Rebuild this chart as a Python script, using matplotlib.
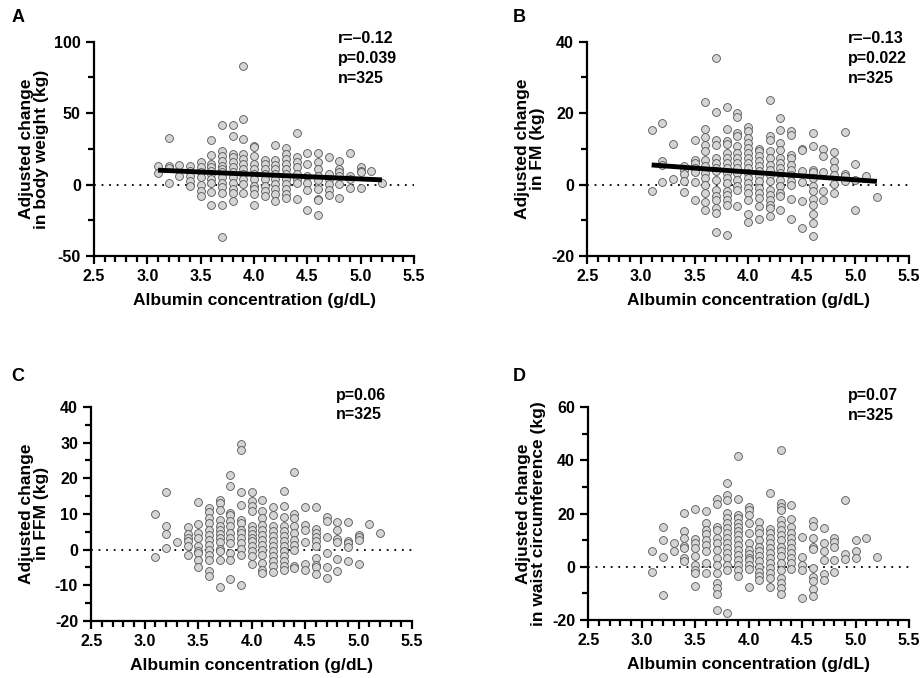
import numpy as np
import matplotlib.pyplot as plt
from matplotlib.ticker import MultipleLocator

plt.rcParams['font.family'] = ['Liberation Sans', 'DejaVu Sans']
plt.rcParams['font.weight'] = 'bold'
plt.rcParams['axes.unicode_minus'] = False

# albumin columns (g/dL)
alb = [3.1, 3.2, 3.3, 3.4, 3.5, 3.6, 3.7, 3.8, 3.9, 4.0, 4.1,
       4.2, 4.3, 4.4, 4.5, 4.6, 4.7, 4.8, 4.9, 5.0, 5.1, 5.2]

# A - body weight (kg), one list per albumin column
bw = [
    [12.7, 8.0],
    [32.5, 12.7, 11.5, 1.0],
    [14.0, 5.7],
    [12.7, 9.7, 6.0, 2.6, -1.0],
    [15.8, 12.0, 8.5, 5.0, 0.0, -4.5, -8.0],
    [31.4, 20.8, 14.4, 12.0, 9.7, 7.3, 3.8, 1.4, -5.0, -14.0],
    [42.0, 23.8, 20.3, 16.7, 13.2, 10.8, 8.5, 5.0, 1.4, -2.0, -5.7, -14.4, -36.5],
    [42.0, 33.7, 21.5, 19.0, 15.6, 12.0, 8.5, 5.0, 1.4, -3.3, -5.7, -11.5],
    [82.8, 46.2, 32.0, 21.5, 18.0, 14.4, 10.8, 7.3, 3.8, 0.7, -5.7],
    [27.0, 26.0, 19.8, 14.4, 10.8, 7.3, 3.8, -1.0, -3.3, -6.8, -14.6],
    [17.0, 14.4, 10.8, 7.3, 3.8, -1.0, -4.5, -8.0],
    [28.0, 17.0, 14.0, 10.8, 7.3, 3.8, 0.2, -3.3, -6.8, -11.5],
    [25.5, 21.5, 18.0, 14.4, 10.8, 7.3, 3.8, 0.2, -3.3, -6.8, -9.7],
    [36.0, 19.6, 15.6, 12.0, 7.3, 3.8, 1.0, -10.0],
    [22.0, 14.4, 6.0, 1.4, -3.8, -18.0],
    [22.0, 15.6, 10.8, 6.0, 3.3, -3.3, -10.0, -11.0, -21.0],
    [19.0, 7.3, 3.8, 0.7, -3.8, -7.5],
    [16.5, 10.8, 8.5, 6.0, 0.7, -9.2],
    [22.4, 6.0, 3.8, -2.6],
    [12.0, 9.7, 8.5, -2.6],
    [9.7],
    [1.2],
]

# B - fat mass (kg)
fm = [
    [15.4, -1.7],
    [17.3, 6.5, 5.4, 0.7],
    [11.5, 1.6],
    [5.1, 4.2, 3.1, 0.9, -2.0],
    [12.4, 7.0, 6.1, 4.7, 3.5, 0.7, -4.4],
    [23.1, 15.6, 13.3, 11.2, 9.3, 7.0, 5.1, 3.3, 1.9, 0.0, -2.3, -4.9, -7.0],
    [35.4, 20.3, 12.6, 11.2, 7.5, 6.1, 4.7, 3.7, 1.4, -1.4, -3.3, -4.2, -6.5, -7.9, -13.2],
    [21.6, 15.6, 12.1, 11.5, 8.9, 7.5, 6.1, 4.7, 3.3, 1.9, 0.5, -1.9, -2.8, -4.2, -5.6, -14.1],
    [20.1, 18.9, 14.5, 13.5, 10.7, 8.9, 7.5, 6.1, 4.7, 3.3, 1.4, -0.5, -1.6, -6.1],
    [16.1, 14.9, 13.1, 11.7, 10.3, 8.9, 7.5, 6.1, 4.7, 3.3, 1.9, 0.5, -0.9, -2.3, -4.4, -8.2, -10.4],
    [10.1, 9.3, 7.9, 6.5, 5.1, 3.7, 2.3, 0.9, -0.9, -2.3, -3.7, -5.9, -9.6],
    [23.8, 13.5, 12.6, 9.3, 7.5, 5.6, 4.2, 2.8, 0.9, -1.4, -2.8, -4.2, -5.6, -6.5, -8.7],
    [18.7, 15.4, 11.7, 9.8, 7.5, 6.1, 4.7, 3.3, 1.4, -0.5, -2.3, -3.3, -7.0],
    [15.1, 14.0, 8.4, 7.5, 5.6, 4.2, 2.8, 0.9, 0.0, -3.9, -9.5],
    [10.1, 9.6, 3.7, 0.7, -4.7, -12.2],
    [14.5, 10.9, 4.2, 3.5, 1.9, -0.5, -1.9, -3.9, -5.6, -8.2, -10.7, -14.5],
    [10.1, 8.1, 3.5, -1.9, -4.4],
    [9.1, 6.5, 4.7, 2.8, 0.3, -2.3],
    [14.6, 3.1, 2.3, 0.9],
    [5.9, 1.4, -7.0],
    [2.5],
    [-3.5],
]

# C - fat free mass (kg)
ffm = [
    [10.1, -2.2],
    [16.0, 6.7, 4.5, 0.4],
    [2.2],
    [6.4, 4.5, 3.3, 2.3, 0.9, -1.4],
    [13.3, 7.3, 4.7, 3.3, 0.9, -0.3, -0.9, -3.0, -5.0],
    [11.7, 10.5, 8.9, 7.5, 5.6, 4.2, 2.8, 1.4, 0.0, -1.4, -2.8, -6.1, -7.5],
    [13.8, 13.1, 11.2, 8.2, 6.5, 5.6, 4.5, 3.3, 2.1, 0.3, -0.5, -2.8, -10.6],
    [20.8, 17.9, 10.3, 9.7, 7.9, 6.5, 4.7, 3.3, 1.9, -0.9, -2.8, -8.1],
    [29.7, 27.8, 16.2, 12.6, 8.4, 7.5, 5.6, 4.7, 3.3, 1.9, 0.2, -1.6, -9.9],
    [16.1, 13.6, 12.3, 10.7, 6.5, 5.6, 4.5, 3.3, 2.3, 1.1, -0.5, -1.9, -3.9],
    [14.0, 10.7, 8.9, 7.0, 5.6, 4.2, 2.8, 1.4, 0.0, -1.4, -3.7, -5.8, -6.5],
    [11.9, 9.8, 6.5, 5.1, 3.7, 2.3, 0.9, -0.5, -1.9, -3.3, -4.7, -6.4],
    [16.4, 12.1, 9.2, 6.5, 5.1, 3.7, 2.3, 0.9, -0.5, -1.9, -3.3, -4.7, -5.6],
    [21.8, 10.1, 8.9, 6.5, 4.7, 2.8, 1.4, 0.0, -4.7, -5.2],
    [12.0, 7.0, 5.4, 2.2, -3.9, -5.6],
    [12.0, 5.9, 4.7, 3.6, 2.3, 1.1, -2.3, -4.2, -5.0, -6.7],
    [9.2, 7.9, 3.4, -0.9, -4.9, -7.9],
    [7.7, 5.6, 3.1, 2.2, -2.6, -6.0],
    [7.7, 2.3, 1.9, 0.7, -3.3],
    [4.2, 3.4, 2.6, -4.1],
    [7.2],
    [4.7],
]

# D - waist circumference
waist = [
    [6.0, -2.0],
    [14.8, 9.9, 3.8, -10.6],
    [9.0, 5.8],
    [20.1, 13.5, 10.8, 7.9, 7.0, 3.3, 2.0],
    [21.6, 10.4, 8.9, 7.0, 3.9, 0.8, -1.1, -2.4, -7.1],
    [20.8, 16.6, 13.9, 12.4, 9.9, 8.3, 5.8, 1.4, -2.4],
    [25.5, 23.6, 15.1, 13.9, 10.8, 8.9, 6.4, 3.3, 0.8, -2.4, -6.1, -8.0, -10.1, -16.4],
    [31.4, 26.8, 25.1, 20.1, 18.3, 16.4, 14.5, 12.6, 10.8, 8.9, 7.0, 5.1, 3.3, 0.8, -1.1, -17.4],
    [41.8, 25.4, 19.5, 18.3, 16.4, 15.1, 13.3, 12.0, 10.1, 8.3, 6.4, 4.5, 2.6, 0.8, -1.1, -3.6],
    [22.6, 21.4, 19.5, 16.4, 12.6, 8.9, 6.4, 4.9, 3.3, 2.6, 0.8, -0.9, -7.6],
    [17.0, 14.1, 12.6, 10.1, 7.4, 5.8, 3.9, 2.0, 0.1, -1.8, -3.6, -5.1],
    [27.9, 14.1, 12.6, 10.8, 8.9, 7.0, 5.1, 3.3, 1.4, -0.5, -2.4, -4.3, -7.4],
    [43.8, 24.1, 22.6, 21.4, 17.6, 15.8, 13.9, 12.0, 10.1, 7.6, 5.8, 3.9, 1.4, -1.1, -4.3, -6.1, -8.0, -10.3],
    [23.4, 17.9, 15.1, 12.6, 10.8, 8.9, 7.0, 5.1, 3.3, 1.4, -0.9],
    [11.1, 3.8, 0.8, -1.1, -11.6],
    [17.3, 15.4, 10.9, 7.4, 6.6, -0.5, -3.9, -5.5, -8.4, -10.8],
    [14.5, 8.9, 5.8, 2.4, -2.6, -5.1],
    [11.0, 9.3, 7.4, 2.6, -2.0],
    [25.0, 4.9, 2.9],
    [10.0, 5.8, 3.3],
    [10.8],
    [3.8],
]

# regression lines (x ends, y ends)
fit_x = [3.1, 5.2]
fit_bw = [10.1, 3.3]
fit_fm = [5.5, 0.9]

panels = [
    dict(letter='A', cols=bw, ylab='Adjusted change\nin body weight (kg)',
         ylim=(-50, 100), major=50, minor=25, fit=fit_bw,
         stats='r=\u20130.12\np=0.039\nn=325', sx=0.7625, sy=1.05),
    dict(letter='B', cols=fm, ylab='Adjusted change\nin FM (kg)',
         ylim=(-20, 40), major=20, minor=10, fit=fit_fm,
         stats='r=\u20130.13\np=0.022\nn=325', sx=0.81, sy=1.05),
    dict(letter='C', cols=ffm, ylab='Adjusted change\nin FFM (kg)',
         ylim=(-20, 40), major=10, minor=5, fit=None,
         stats='p=0.06\nn=325', sx=0.7625, sy=1.09),
    dict(letter='D', cols=waist, ylab='Adjusted change\nin waist circumference (kg)',
         ylim=(-20, 60), major=20, minor=10, fit=None,
         stats='p=0.07\nn=325', sx=0.81, sy=1.09),
]

boxes = [
    [0.102, 0.6224, 0.347, 0.316],
    [0.637, 0.6224, 0.349, 0.316],
    [0.099, 0.0840, 0.348, 0.316],
    [0.638, 0.0855, 0.348, 0.314],
]
letter_pos = [(0.012, 0.987), (0.556, 0.987), (0.012, 0.457), (0.556, 0.457)]

fig = plt.figure(figsize=(9.22, 6.78), dpi=100)

for p, box, lp in zip(panels, boxes, letter_pos):
    ax = fig.add_axes(box)
    xs = np.concatenate([[a] * len(c) for a, c in zip(alb, p['cols'])])
    ys = np.concatenate([c for c in p['cols']])
    ax.axhline(0, color='black', lw=1.3, ls=(0, (1, 3.2)), zorder=1)
    ax.scatter(xs, ys, s=32, c='#d4d4d4', edgecolors='#555555',
               linewidths=0.6, zorder=2)
    if p['fit'] is not None:
        ax.plot(fit_x, p['fit'], color='black', lw=3.5,
                solid_capstyle='butt', zorder=3)

    ax.set_xlim(2.5, 5.5)
    ax.set_ylim(*p['ylim'])
    ax.xaxis.set_major_locator(MultipleLocator(0.5))
    ax.xaxis.set_minor_locator(MultipleLocator(0.1))
    ax.yaxis.set_major_locator(MultipleLocator(p['major']))
    ax.yaxis.set_minor_locator(MultipleLocator(p['minor']))
    ax.xaxis.set_major_formatter(plt.FormatStrFormatter('%.1f'))

    for side in ['top', 'right']:
        ax.spines[side].set_visible(False)
    for side in ['left', 'bottom']:
        ax.spines[side].set_linewidth(1.6)
    ax.tick_params(which='major', length=6, width=1.6, labelsize=11.5, direction='out')
    ax.tick_params(which='minor', length=4, width=1.6, direction='out')
    for lab in ax.get_xticklabels() + ax.get_yticklabels():
        lab.set_fontweight('bold')

    ax.set_xlabel('Albumin concentration (g/dL)', fontsize=12.5,
                  fontweight='bold', labelpad=6)
    ax.set_ylabel(p['ylab'], fontsize=12.5, fontweight='bold',
                  linespacing=1.0, labelpad=4)
    ax.text(p['sx'], p['sy'], p['stats'], transform=ax.transAxes,
            ha='left', va='top', fontsize=11.5, fontweight='bold',
            linespacing=1.4)
    fig.text(lp[0], lp[1], p['letter'], ha='left', va='top',
             fontsize=13, fontweight='bold')

fig.savefig('out.png', dpi=100)
